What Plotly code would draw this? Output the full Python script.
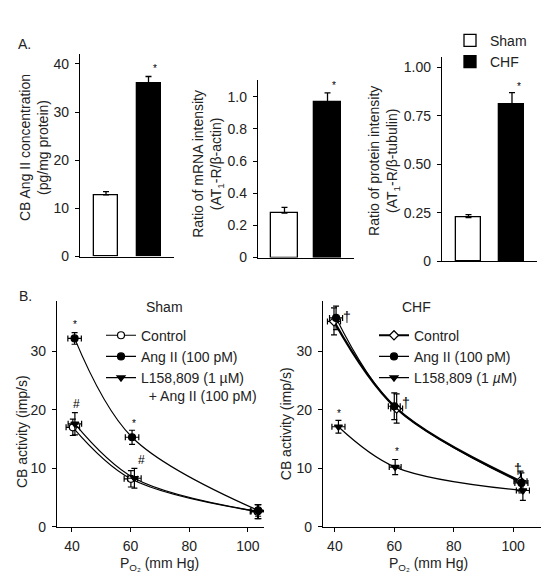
import plotly.graph_objects as go

W, H = 556, 584
FONT = "Liberation Sans, Arial, sans-serif"
TXT = "#222"

# ---------------- data ----------------
groups = ["Sham", "CHF"]
group_x = [0, 1]
angii_conc = [12.8, 36.0]
angii_conc_err = [0.7, 1.4]
mrna_ratio = [0.276, 0.969]
mrna_err = [0.036, 0.055]
protein_ratio = [0.226, 0.808]
protein_err = [0.015, 0.060]

# Panel B - Sham
sham_control_x = [40.3, 60.1, 103.3]
sham_control_y = [17.0, 8.2, 2.6]
sham_control_ey = [1.4, 1.4, 1.2]
sham_angii_x = [40.9, 60.5, 103.5]
sham_angii_y = [32.2, 15.3, 2.8]
sham_angii_ey = [1.0, 1.2, 1.0]
sham_l158_x = [41.0, 61.3, 103.6]
sham_l158_y = [17.6, 8.3, 2.6]
sham_l158_ey = [1.9, 1.7, 1.2]
sham_ex = [2.3, 2.3, 2.5]

# Panel B - CHF
chf_control_x = [39.7, 60.8, 102.5]
chf_control_y = [35.1, 20.2, 7.8]
chf_control_ey = [2.3, 2.5, 1.7]
chf_angii_x = [40.4, 60.0, 102.8]
chf_angii_y = [35.7, 20.6, 7.5]
chf_angii_ey = [2.0, 2.3, 1.7]
chf_l158_x = [41.2, 60.3, 103.3]
chf_l158_y = [17.1, 10.2, 6.2]
chf_l158_ey = [1.1, 1.3, 1.7]
chf_ex = [2.2, 2.0, 2.2]

a1_ticks = [0, 10, 20, 30, 40]
a2_ticks = [0, 0.2, 0.4, 0.6, 0.8, 1.0]
a2_ticklabels = ["0", "0.2", "0.4", "0.6", "0.8", "1.0"]
a3_ticks = [0, 0.25, 0.5, 0.75, 1.0]
a3_ticklabels = ["0", "0.25", "0.50", "0.75", "1.00"]
b_yticks = [0, 10, 20, 30]
b_xticks = [40, 60, 80, 100]


def xd(l, r):
    return [l / W, r / W]


def yd(bottom, top):
    return [1 - bottom / H, 1 - top / H]


fig = go.Figure()

# ---------------- panel A bars ----------------
bar_panels = [
    ("x", "y", angii_conc, angii_conc_err, 0.565),
    ("x2", "y2", mrna_ratio, mrna_err, 0.63),
    ("x3", "y3", protein_ratio, protein_err, 0.575),
]
for i, (xa, ya, vals, errs, bw) in enumerate(bar_panels):
    for g in range(2):
        fig.add_trace(go.Bar(
            x=[group_x[g]], y=[vals[g]], name=groups[g], width=bw,
            marker=dict(color="white" if g == 0 else "black",
                        line=dict(color="black", width=1.3)),
            error_y=dict(type="data", array=[errs[g]], arrayminus=[0],
                         symmetric=False, color="black", thickness=1.3, width=3),
            xaxis=xa, yaxis=ya, legend="legend",
            showlegend=(i == 2),
        ))

# ---------------- panel B lines ----------------
def add_series(xs, ys, ey, ex, name, symbol, fill, xa, ya, leg, lw=1.2):
    fig.add_trace(go.Scatter(
        x=xs, y=ys, name=name, mode="lines+markers",
        line=dict(color="black", width=lw, shape="spline", smoothing=1.0),
        marker=dict(symbol=symbol, size=7, color=fill,
                    line=dict(color="black", width=1.2)),
        error_y=dict(type="data", array=ey, color="black", thickness=1.2, width=3),
        error_x=dict(type="data", array=ex, color="black", thickness=1.2, width=3),
        xaxis=xa, yaxis=ya, legend=leg,
    ))


add_series(sham_control_x, sham_control_y, sham_control_ey, sham_ex,
           "Control", "circle", "white", "x4", "y4", "legend2")
add_series(sham_angii_x, sham_angii_y, sham_angii_ey, sham_ex,
           "Ang II (100 pM)", "circle", "black", "x4", "y4", "legend2")
add_series(sham_l158_x, sham_l158_y, sham_l158_ey, sham_ex,
           "L158,809 (1 µM)<br>\u00a0\u00a0+ Ang II (100 pM)", "triangle-down", "black",
           "x4", "y4", "legend2")

add_series(chf_control_x, chf_control_y, chf_control_ey, chf_ex,
           "Control", "diamond", "white", "x5", "y5", "legend3", lw=2.2)
add_series(chf_angii_x, chf_angii_y, chf_angii_ey, chf_ex,
           "Ang II (100 pM)", "circle", "black", "x5", "y5", "legend3")
add_series(chf_l158_x, chf_l158_y, chf_l158_ey, chf_ex,
           "L158,809 (1 <i>µ</i>M)", "triangle-down", "black", "x5", "y5", "legend3")

# ---------------- axes ----------------
base_y = dict(showline=True, linecolor="black", linewidth=1.3, ticks="outside",
              ticklen=4, tickcolor="black", tickwidth=1.2, showgrid=False,
              zeroline=False, tickfont=dict(size=14, color=TXT, family=FONT),
              ticklabelstandoff=3)
base_x_bar = dict(showline=True, linecolor="black", linewidth=1.3, ticks="",
                  showticklabels=False, showgrid=False, zeroline=False)
base_x_b = dict(showline=True, linecolor="black", linewidth=1.3, ticks="outside",
                ticklen=4, tickcolor="black", tickwidth=1.2, showgrid=False,
                zeroline=False, tickfont=dict(size=14, color=TXT, family=FONT),
                tickvals=b_xticks, ticklabelstandoff=2)

fig.update_layout(
    width=W, height=584, margin=dict(l=0, r=0, t=0, b=0),
    paper_bgcolor="white", plot_bgcolor="white",
    font=dict(family=FONT, size=14, color=TXT),
    bargap=0,
    xaxis=dict(base_x_bar, domain=xd(72, 166), range=[-0.612, 1.6], anchor="y"),
    yaxis=dict(base_y, domain=yd(252, 47), range=[0, 42], tickvals=a1_ticks, anchor="x"),
    xaxis2=dict(base_x_bar, domain=xd(250, 346), range=[-0.616, 1.616], anchor="y2"),
    yaxis2=dict(base_y, domain=yd(253, 73), range=[0, 1.104], tickvals=a2_ticks,
                ticktext=a2_ticklabels, anchor="x2"),
    xaxis3=dict(base_x_bar, domain=xd(434, 529), range=[-0.609, 1.575], anchor="y3"),
    yaxis3=dict(base_y, domain=yd(257, 50), range=[0, 1.05], tickvals=a3_ticks,
                ticktext=a3_ticklabels, anchor="x3"),
    xaxis4=dict(base_x_b, domain=xd(49, 256), range=[34.9, 105.5], anchor="y4"),
    yaxis4=dict(base_y, domain=yd(526, 297), range=[0, 38.6], tickvals=b_yticks, anchor="x4"),
    xaxis5=dict(base_x_b, domain=xd(315, 533), range=[36, 109.4], anchor="y5"),
    yaxis5=dict(base_y, domain=yd(526, 297), range=[0, 38.6], tickvals=b_yticks, anchor="x5"),
    legend=dict(x=442 / W, y=1 - 17 / H, xanchor="left", yanchor="top",
                bgcolor="rgba(0,0,0,0)", font=dict(size=14, color=TXT),
                tracegroupgap=0, itemclick=False),
    legend2=dict(x=93 / W, y=1 - 316 / H, xanchor="left", yanchor="top",
                 bgcolor="rgba(0,0,0,0)", font=dict(size=14, color=TXT),
                 tracegroupgap=0, valign="top"),
    legend3=dict(x=366 / W, y=1 - 316 / H, xanchor="left", yanchor="top",
                 bgcolor="rgba(0,0,0,0)", font=dict(size=14, color=TXT),
                 tracegroupgap=0),
)

# ---------------- text annotations ----------------
ann = []


def paper_text(txt, px, py, angle=0, size=14):
    ann.append(dict(text=txt, x=px / W, y=1 - py / H, xref="paper", yref="paper",
                    showarrow=False, textangle=angle, font=dict(size=size, color=TXT),
                    xanchor="center", yanchor="middle"))


def data_text(txt, x, y, xa, ya, size=10):
    ann.append(dict(text=txt, x=x, y=y, xref=xa, yref=ya, showarrow=False,
                    font=dict(size=size, color="black"), xanchor="center", yanchor="middle"))


paper_text("A.", 16, 37)
paper_text("B.", 17, 292)
paper_text("CB Ang II concentration<br>(pg/mg protein)", 26, 142, angle=-90)
paper_text("Ratio of mRNA intensity<br>(AT<sub>1</sub>-R/β-actin)", 200, 158, angle=-90)
paper_text("Ratio of protein intensity<br>(AT<sub>1</sub>-R/β-tubulin)", 376, 155, angle=-90)
paper_text("CB activity (imp/s)", 14, 430, angle=-90)
paper_text("CB activity (imp/s)", 278, 422, angle=-90)
paper_text("P<sub>O₂</sub> (mm Hg)", 151, 564)
paper_text("P<sub>O₂</sub> (mm Hg)", 420, 564)
paper_text("Sham", 156, 303)
paper_text("CHF", 408, 303)

data_text("*", 1.146, 39.0, "x", "y")
data_text("*", 1.144, 1.072, "x2", "y2")
data_text("*", 1.154, 0.898, "x3", "y3")

data_text("*", 41.0, 34.6, "x4", "y4")
data_text("#", 41.5, 21.0, "x4", "y4", size=12)
data_text("*", 61.0, 17.7, "x4", "y4")
data_text("#", 63.8, 11.5, "x4", "y4", size=12)

data_text("†", 44.0, 35.9, "x5", "y5", size=14)
data_text("†", 63.9, 21.2, "x5", "y5", size=14)
data_text("†", 101.6, 9.8, "x5", "y5", size=14)
data_text("*", 41.5, 19.4, "x5", "y5")
data_text("*", 61.0, 12.9, "x5", "y5")

fig.update_layout(annotations=ann)

fig.write_html("out.html")
